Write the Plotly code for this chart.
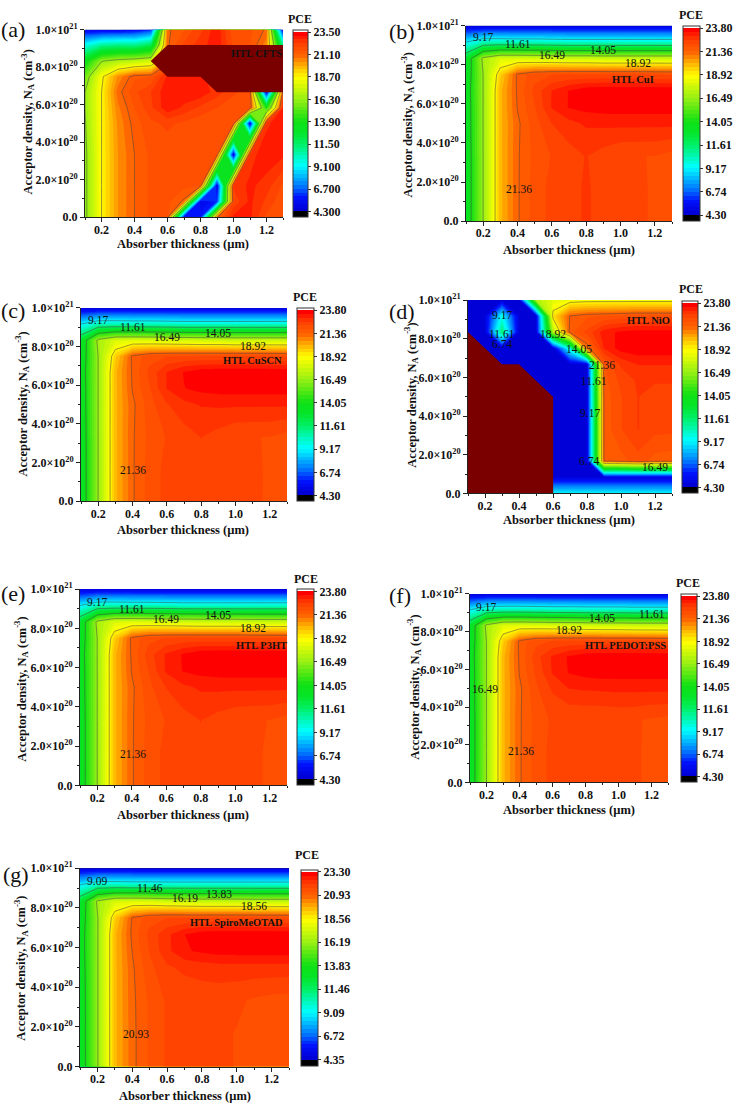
import plotly.graph_objects as go

W, H = 738, 1112
SERIF = "Liberation Serif"

# ---------- data ----------
thickness = [0.1, 0.2, 0.3, 0.4, 0.5, 0.6, 0.7, 0.8, 0.9, 1.0, 1.1, 1.2, 1.3]
density = [0, 1.67, 3.33, 5, 5.83, 6.67, 7.5, 8.33, 9.17, 10]          # x 1e20 cm-3
density_fine = [0, 0.83, 1.67, 3.33, 5, 5.83, 6.67, 7.5, 8.33, 9.17, 10]  # x 1e20 cm-3

pce_a = [
    [16.0, 18.7, 20.3, 21.1, 21.6, 21.6, 5.2, 5.8, 21.0, 22.8, 22.8, 21.8, 21.5],
    [16.0, 18.7, 20.3, 21.1, 21.6, 21.6, 21.0, 5.0, 6.0, 22.0, 22.8, 22.2, 21.6],
    [16.0, 18.7, 20.3, 21.1, 21.6, 21.6, 21.6, 21.6, 4.8, 22.4, 22.8, 22.5, 21.8],
    [16.0, 18.7, 20.3, 21.1, 21.6, 21.6, 21.6, 21.6, 21.6, 4.8, 22.5, 23.0, 22.8],
    [16.2, 18.7, 20.4, 21.3, 21.8, 22.0, 21.8, 21.6, 21.6, 21.6, 4.8, 22.6, 23.0],
    [16.3, 18.7, 20.6, 21.5, 22.2, 23.0, 22.6, 22.2, 21.9, 21.6, 21.7, 14.0, 22.8],
    [16.3, 18.7, 20.9, 21.8, 22.3, 23.0, 23.0, 23.0, 22.5, 22.0, 21.6, 4.8, 21.5],
    [15.5, 18.5, 20.4, 21.4, 21.5, 22.8, 23.0, 23.0, 22.0, 21.6, 21.6, 16.0, 21.5],
    [13.5, 16.2, 16.8, 17.1, 17.5, 20.5, 21.5, 22.0, 22.5, 21.6, 21.5, 20.0, 16.0],
    [9.5, 10.8, 11.1, 11.0, 12.0, 21.0, 22.0, 22.5, 23.0, 21.8, 21.5, 20.5, 11.0],
    [5.0, 5.0, 5.0, 5.3, 6.0, 21.0, 21.5, 22.2, 23.0, 21.6, 21.6, 21.0, 5.0],
]
pce_b = [
    [13.0, 16.5, 20.0, 21.3, 21.95, 22.3, 22.4, 22.65, 22.4, 22.35, 22.25, 22.12, 22.0],
    [13.0, 16.5, 20.0, 21.3, 21.95, 22.3, 22.4, 22.65, 22.4, 22.35, 22.28, 22.1, 22.05],
    [13.0, 16.5, 20.0, 21.3, 21.9, 22.2, 22.4, 22.6, 22.4, 22.2, 22.18, 22.17, 22.02],
    [13.1, 16.5, 20.0, 21.25, 22.0, 22.58, 22.85, 23.05, 23.08, 23.1, 23.1, 23.1, 23.1],
    [13.1, 16.5, 20.0, 21.4, 22.15, 23.02, 23.42, 23.55, 23.6, 23.6, 23.6, 23.6, 23.6],
    [13.2, 16.5, 20.0, 21.45, 22.3, 23.0, 23.42, 23.7, 23.75, 23.75, 23.75, 23.75, 23.75],
    [13.0, 16.5, 19.6, 21.5, 22.0, 22.15, 22.2, 22.2, 22.2, 22.2, 22.2, 22.15, 22.1],
    [12.8, 16.8, 18.0, 18.0, 17.9, 17.8, 17.7, 17.7, 17.6, 17.6, 17.6, 17.6, 17.6],
    [9.1, 10.3, 10.3, 10.2, 10.2, 10.1, 10.0, 10.0, 10.0, 10.0, 10.0, 10.0, 10.0],
    [4.7, 4.7, 4.7, 4.7, 4.7, 4.7, 4.7, 4.7, 4.7, 4.7, 4.7, 4.7, 4.7],
]
pce_c = [
    [13.0, 16.5, 20.0, 21.3, 21.95, 22.3, 22.4, 22.5, 22.45, 22.35, 22.25, 22.12, 22.0],
    [13.0, 16.5, 20.0, 21.3, 21.95, 22.3, 22.4, 22.5, 22.45, 22.35, 22.28, 22.1, 22.05],
    [13.0, 16.5, 20.0, 21.3, 21.9, 22.2, 22.4, 22.59, 22.42, 22.2, 22.18, 22.17, 22.02],
    [13.1, 16.5, 20.0, 21.25, 22.0, 22.55, 22.85, 23.02, 23.05, 23.05, 23.05, 23.05, 23.05],
    [13.1, 16.5, 20.0, 21.4, 22.15, 23.0, 23.38, 23.52, 23.58, 23.58, 23.58, 23.58, 23.58],
    [13.2, 16.5, 20.0, 21.45, 22.3, 23.0, 23.42, 23.68, 23.72, 23.72, 23.72, 23.72, 23.72],
    [13.0, 16.5, 19.6, 21.5, 22.0, 22.15, 22.2, 22.2, 22.2, 22.2, 22.2, 22.15, 22.1],
    [12.8, 16.8, 18.0, 18.1, 18.0, 17.9, 17.8, 17.7, 17.7, 17.6, 17.6, 17.6, 17.6],
    [9.1, 10.3, 10.3, 10.2, 10.2, 10.1, 10.0, 10.0, 10.0, 10.0, 10.0, 10.0, 10.0],
    [4.7, 4.7, 4.7, 4.7, 4.7, 4.7, 4.7, 4.7, 4.7, 4.7, 4.7, 4.7, 4.7],
]
pce_d = [
    [4.7, 4.7, 4.7, 4.7, 4.7, 9.2, 9.2, 9.2, 9.2, 9.2, 9.2, 9.2, 9.2],
    [4.7, 4.7, 4.7, 4.7, 4.7, 4.7, 4.7, 4.7, 4.7, 4.7, 4.7, 4.7, 4.7],
    [4.7, 4.7, 4.7, 4.7, 4.7, 4.7, 4.7, 4.7, 21.4, 21.6, 22.0, 21.6, 21.5],
    [4.7, 4.7, 4.7, 4.7, 4.7, 4.7, 4.7, 4.7, 21.5, 22.15, 22.6, 22.3, 22.3],
    [4.7, 4.7, 4.7, 4.7, 4.7, 4.7, 4.7, 4.7, 21.5, 22.15, 22.6, 22.3, 22.3],
    [4.7, 4.7, 4.7, 4.7, 4.7, 4.7, 4.7, 4.7, 21.6, 22.3, 22.65, 22.65, 22.65],
    [4.7, 4.7, 4.7, 4.7, 4.7, 4.7, 4.7, 4.7, 21.7, 22.65, 23.0, 23.0, 23.0],
    [4.7, 4.7, 4.7, 4.7, 4.7, 4.7, 10.0, 21.0, 23.0, 23.6, 23.7, 23.7, 23.7],
    [4.7, 4.7, 11.5, 4.7, 4.7, 17.0, 21.6, 22.3, 23.2, 23.5, 23.6, 23.6, 23.6],
    [4.7, 4.7, 9.5, 4.7, 4.7, 19.3, 21.4, 21.7, 21.8, 21.9, 22.0, 22.0, 22.0],
    [4.7, 4.7, 4.7, 4.7, 17.0, 18.2, 18.5, 18.6, 18.6, 18.6, 18.6, 18.6, 18.6],
]
pce_e = [
    [13.0, 16.5, 20.0, 21.3, 21.95, 22.3, 22.4, 22.5, 22.45, 22.35, 22.25, 22.12, 22.0],
    [13.0, 16.5, 20.0, 21.3, 21.95, 22.3, 22.4, 22.5, 22.45, 22.35, 22.28, 22.1, 22.05],
    [13.0, 16.5, 20.0, 21.3, 21.9, 22.2, 22.42, 22.59, 22.42, 22.25, 22.2, 22.17, 22.02],
    [13.1, 16.5, 20.0, 21.25, 22.05, 22.6, 22.9, 23.05, 23.08, 23.08, 23.08, 23.08, 23.08],
    [13.1, 16.5, 20.0, 21.4, 22.2, 23.05, 23.42, 23.55, 23.6, 23.6, 23.6, 23.6, 23.6],
    [13.2, 16.5, 20.0, 21.45, 22.4, 23.05, 23.45, 23.72, 23.75, 23.75, 23.75, 23.75, 23.75],
    [13.0, 16.5, 19.6, 21.5, 22.05, 22.2, 22.25, 22.25, 22.25, 22.25, 22.2, 22.2, 22.15],
    [12.8, 16.8, 18.0, 18.1, 18.0, 17.9, 17.8, 17.7, 17.7, 17.7, 17.6, 17.6, 17.6],
    [9.1, 10.3, 10.3, 10.2, 10.2, 10.1, 10.0, 10.0, 10.0, 10.0, 10.0, 10.0, 10.0],
    [4.7, 4.7, 4.7, 4.7, 4.7, 4.7, 4.7, 4.7, 4.7, 4.7, 4.7, 4.7, 4.7],
]
pce_f = [
    [13.0, 16.5, 20.0, 21.3, 21.95, 22.3, 22.35, 22.35, 22.35, 22.3, 22.22, 22.1, 22.0],
    [13.0, 16.5, 20.0, 21.3, 21.95, 22.3, 22.35, 22.35, 22.35, 22.3, 22.22, 22.1, 22.0],
    [13.0, 16.5, 20.0, 21.3, 21.9, 22.25, 22.2, 22.2, 22.2, 22.25, 22.22, 22.12, 22.05],
    [13.1, 16.5, 20.0, 21.25, 22.1, 22.65, 23.0, 23.05, 23.08, 23.1, 23.1, 23.1, 23.1],
    [13.1, 16.5, 20.0, 21.4, 22.25, 23.02, 23.42, 23.55, 23.6, 23.6, 23.6, 23.6, 23.6],
    [13.2, 16.5, 20.0, 21.45, 22.4, 23.05, 23.45, 23.7, 23.75, 23.75, 23.75, 23.75, 23.75],
    [13.0, 16.5, 19.6, 21.5, 22.05, 22.2, 22.25, 22.25, 22.25, 22.25, 22.25, 22.2, 22.15],
    [12.8, 16.8, 18.1, 18.2, 18.1, 18.0, 17.9, 17.8, 17.7, 17.7, 17.6, 17.6, 17.6],
    [9.1, 10.3, 10.4, 10.4, 10.3, 10.2, 10.2, 10.1, 10.1, 10.1, 10.0, 10.0, 10.0],
    [4.7, 4.7, 4.7, 4.7, 4.7, 4.7, 4.7, 4.7, 4.7, 4.7, 4.7, 4.7, 4.7],
]
pce_g = [
    [12.8, 16.1, 19.6, 20.8, 21.4, 21.78, 21.82, 21.82, 21.8, 21.7, 21.65, 21.6, 21.55],
    [12.8, 16.1, 19.6, 20.8, 21.4, 21.78, 21.82, 21.82, 21.8, 21.7, 21.65, 21.6, 21.55],
    [12.8, 16.1, 19.6, 20.82, 21.4, 21.78, 21.85, 21.85, 21.85, 21.8, 21.66, 21.58, 21.55],
    [12.9, 16.1, 19.6, 20.85, 21.6, 22.05, 22.2, 22.3, 22.35, 22.35, 22.35, 22.35, 22.35],
    [13.0, 16.1, 19.6, 20.95, 21.75, 22.4, 22.85, 22.98, 23.08, 23.1, 23.1, 23.1, 23.1],
    [13.0, 16.1, 19.6, 21.05, 21.85, 22.4, 22.9, 23.15, 23.2, 23.2, 23.2, 23.2, 23.2],
    [12.8, 16.1, 19.2, 21.0, 21.55, 21.7, 21.7, 21.7, 21.7, 21.7, 21.7, 21.65, 21.6],
    [12.5, 16.4, 17.6, 17.7, 17.6, 17.4, 17.3, 17.2, 17.2, 17.2, 17.1, 17.1, 17.1],
    [9.0, 10.1, 10.1, 10.0, 10.0, 9.9, 9.9, 9.9, 9.9, 9.9, 9.9, 9.9, 9.9],
    [4.75, 4.75, 4.75, 4.75, 4.75, 4.75, 4.75, 4.75, 4.75, 4.75, 4.75, 4.75, 4.75],
]

# Regions of no result (dark brown)
void_y_a = [5.83, 6.67, 7.5, 8.33, 9.17, 10]
void_a = [
    [0, 0, 0, 0, 0, 0, 0, 0, 0, 0, 0, 0, 0],
    [0, 0, 0, 0, 0, 0, 0, 0, 1, 1, 1, 1, 1],
    [0, 0, 0, 0, 0, 1, 1, 1, 1, 1, 1, 1, 1],
    [0, 0, 0, 0, 1, 1, 1, 1, 1, 1, 1, 1, 1],
    [0, 0, 0, 0, 0, 1, 1, 1, 1, 1, 1, 1, 1],
    [0, 0, 0, 0, 0, 0, 0, 0, 0, 0, 0, 0, 0],
]
void_y_d = [0, 5, 5.83, 6.67, 7.5, 8.33, 9.17]
void_d = [
    [1, 1, 1, 1, 1, 1, 0, 0, 0, 0, 0, 0, 0],
    [1, 1, 1, 1, 1, 1, 0, 0, 0, 0, 0, 0, 0],
    [1, 1, 1, 1, 1, 0, 0, 0, 0, 0, 0, 0, 0],
    [1, 1, 1, 1, 0, 0, 0, 0, 0, 0, 0, 0, 0],
    [1, 1, 0, 0, 0, 0, 0, 0, 0, 0, 0, 0, 0],
    [1, 0, 0, 0, 0, 0, 0, 0, 0, 0, 0, 0, 0],
    [0, 0, 0, 0, 0, 0, 0, 0, 0, 0, 0, 0, 0],
]

ticks_a = ["4.300", "6.700", "9.100", "11.50", "13.90", "16.30", "18.70", "21.10", "23.50"]
ticks_std = ["4.30", "6.74", "9.17", "11.61", "14.05", "16.49", "18.92", "21.36", "23.80"]
ticks_g = ["4.35", "6.72", "9.09", "11.46", "13.83", "16.19", "18.56", "20.93", "23.30"]

labels_a = []
labels_b = [("9.17", 0.2, 9.4), ("11.61", 0.4, 9.07), ("16.49", 0.6, 8.5), ("14.05", 0.9, 8.75),
            ("18.92", 1.1, 8.1), ("21.36", 0.41, 1.63)]
labels_c = [("9.17", 0.2, 9.35), ("11.61", 0.4, 9.0), ("16.49", 0.6, 8.5), ("14.05", 0.9, 8.7),
            ("18.92", 1.1, 8.04), ("21.36", 0.405, 1.6)]
labels_d = [("9.17", 0.3, 9.25), ("11.61", 0.3, 8.26), ("6.74", 0.3, 7.72), ("18.92", 0.6, 8.26),
            ("14.05", 0.75, 7.48), ("21.36", 0.89, 6.64), ("11.61", 0.84, 5.83), ("9.17", 0.82, 4.17),
            ("6.74", 0.81, 1.67), ("16.49", 1.2, 1.36)]
labels_e = [("9.17", 0.2, 9.33), ("11.61", 0.4, 9.0), ("16.49", 0.6, 8.45), ("14.05", 0.9, 8.67),
            ("18.92", 1.1, 8.0), ("21.36", 0.41, 1.6)]
labels_f = [("9.17", 0.195, 9.33), ("14.05", 0.9, 8.7), ("11.61", 1.2, 8.95), ("18.92", 0.7, 8.1),
            ("16.49", 0.19, 4.97), ("21.36", 0.41, 1.66)]
labels_g = [("9.09", 0.2, 9.37), ("11.46", 0.5, 9.02), ("16.19", 0.7, 8.49), ("13.83", 0.9, 8.72),
            ("18.56", 1.1, 8.09), ("20.93", 0.42, 1.63)]

x_ticks = [0.2, 0.4, 0.6, 0.8, 1.0, 1.2]
x_tick_text = ["0.2", "0.4", "0.6", "0.8", "1.0", "1.2"]
y_ticks = [0, 2, 4, 6, 8, 10]
y_tick_text = ["0.0", "2.0×10<sup>20</sup>", "4.0×10<sup>20</sup>", "6.0×10<sup>20</sup>",
               "8.0×10<sup>20</sup>", "1.0×10<sup>21</sup>"]

# colour ramp from the colour bars (fraction of the scale, colour)
ramp = [
    (0.00, (0, 0, 215)), (0.07, (0, 20, 255)), (0.125, (0, 110, 255)), (0.25, (0, 255, 255)),
    (0.375, (0, 240, 100)), (0.44, (5, 228, 40)), (0.50, (15, 225, 20)), (0.625, (150, 240, 20)),
    (0.75, (255, 255, 0)), (0.82, (255, 175, 0)), (0.875, (255, 100, 0)), (0.95, (255, 60, 0)),
    (1.00, (255, 0, 0)),
]

# ---------- layout of panels, in page pixels ----------
panels = [
    dict(tag="a", z=pce_a, y=density_fine, lo=4.3, hi=23.5, ticks=ticks_a, labels=labels_a, first_line=5,
         plot=(85, 283, 22, 212), bar=(293, 308, 22, 212), htl=("HTL CFTS", 1.14, 8.74),
         void=(void_y_a, void_a), letter=(13, 22), pce=(300, 11), xt=(183, 239), yt=(28, 116)),
    dict(tag="b", z=pce_b, y=density, lo=4.3, hi=23.8, ticks=ticks_std, labels=labels_b, first_line=2,
         plot=(466, 672, 18, 216), bar=(683, 700, 18, 216), htl=("HTL CuI", 1.07, 7.25),
         void=None, letter=(402, 24), pce=(691, 7), xt=(569, 245), yt=(408, 119)),
    dict(tag="c", z=pce_c, y=density, lo=4.3, hi=23.8, ticks=ticks_std, labels=labels_c, first_line=2,
         plot=(81, 287, 304, 500), bar=(297, 314, 304, 500), htl=("HTL CuSCN", 1.1, 7.3),
         void=None, letter=(13, 307), pce=(305, 293), xt=(183, 529), yt=(22, 402)),
    dict(tag="d", z=pce_d, y=density_fine, lo=4.3, hi=23.8, ticks=ticks_std, labels=labels_d, first_line=6,
         plot=(468, 672, 296, 492), bar=(682, 698, 297, 492), htl=("HTL NiO", 1.16, 8.93),
         void=(void_y_d, void_d), letter=(402, 308), pce=(691, 285), xt=(569, 519), yt=(411, 393)),
    dict(tag="e", z=pce_e, y=density, lo=4.3, hi=23.8, ticks=ticks_std, labels=labels_e, first_line=2,
         plot=(80, 287, 589, 788), bar=(297, 314, 589, 788), htl=("HTL P3HT", 1.15, 7.15),
         void=None, letter=(13, 594), pce=(306, 579), xt=(183, 818), yt=(21, 691)),
    dict(tag="f", z=pce_f, y=density, lo=4.3, hi=23.8, ticks=ticks_std, labels=labels_f, first_line=2,
         plot=(470, 668, 594, 785), bar=(681, 697, 594, 785), htl=("HTL PEDOT:PSS", 1.04, 7.28),
         void=None, letter=(400, 596), pce=(688, 583), xt=(569, 813), yt=(414, 689)),
    dict(tag="g", z=pce_g, y=density, lo=4.35, hi=23.3, ticks=ticks_g, labels=labels_g, first_line=2,
         plot=(80, 289, 872, 1073), bar=(301, 318, 873, 1072), htl=("HTL SpiroMeOTAD", 1.0, 7.26),
         void=None, letter=(16, 878), pce=(307, 859), xt=(185, 1103), yt=(21, 974)),
]

PER_MAJOR = 6
N_BANDS = 8 * PER_MAJOR


def px(x):
    return x / W


def py(y):
    return 1 - y / H


def ramp_colour(f):
    for (f0, c0), (f1, c1) in zip(ramp, ramp[1:]):
        if f <= f1:
            t = (f - f0) / (f1 - f0)
            rgb = [round(a + (b - a) * t) for a, b in zip(c0, c1)]
            return f"rgb({rgb[0]},{rgb[1]},{rgb[2]})"
    return "rgb(255,0,0)"


def build_scale():
    # levels: lo-s (black band), lo ... hi (ramp), above hi (white band)
    n = N_BANDS + 2
    scale = [[0, "rgb(0,0,0)"], [1 / n, "rgb(0,0,0)"]]
    for i in range(N_BANDS):
        scale.append([(i + 2) / n, ramp_colour(i / (N_BANDS - 1))])
    scale.append([1, "rgb(255,255,255)"])
    return scale


scale = build_scale()
fig = go.Figure()
ann = []
layout_axes = {}


def text(t, x, y, size, bold=True, angle=0, xref="paper", yref="paper"):
    ann.append(dict(text=f"<b>{t}</b>" if bold else t, x=x, y=y, xref=xref, yref=yref,
                    showarrow=False, textangle=angle, xanchor="center", yanchor="middle",
                    font=dict(family=SERIF, size=size, color="#111")))


for i, p in enumerate(panels, 1):
    xa, ya = f"x{i}", f"y{i}"
    xn, yn = f"xaxis{i}", f"yaxis{i}"
    L, R, T, B = p["plot"]
    s = (p["hi"] - p["lo"]) / N_BANDS
    fig.add_trace(go.Contour(
        x=thickness, y=p["y"], z=p["z"], xaxis=xa, yaxis=ya, zauto=False,
        colorscale=scale, autocontour=False, hoverinfo="skip",
        contours=dict(coloring="fill", start=p["lo"] - s, end=p["hi"], size=s, showlines=False),
        line=dict(width=0, smoothing=0),
        colorbar=dict(
            x=px(p["bar"][0]), xanchor="left", xpad=0, ypad=0, thickness=p["bar"][1] - p["bar"][0],
            thicknessmode="pixels", y=py(p["bar"][3]), yanchor="bottom",
            len=(p["bar"][3] - p["bar"][2]) / H, lenmode="fraction",
            outlinewidth=1, outlinecolor="#333", borderwidth=0,
            tickmode="array",
            tickvals=[p["lo"] + k * (p["hi"] - p["lo"]) / 8 for k in range(9)],
            ticktext=[f"<b>{t}</b>" for t in p["ticks"]],
            ticks="outside", ticklen=3, tickcolor="#333",
            tickfont=dict(family=SERIF, size=12, color="#111"),
        ),
    ))
    major = (p["hi"] - p["lo"]) / 8
    fig.add_trace(go.Contour(
        x=thickness, y=p["y"], z=p["z"], xaxis=xa, yaxis=ya, showscale=False, hoverinfo="skip",
        autocontour=False,
        contours=dict(coloring="none", start=p["lo"] + p["first_line"] * major, end=p["hi"] - major, size=major),
        line=dict(color="rgba(70,70,70,0.65)", width=0.8, smoothing=0),
    ))
    if p["void"]:
        fig.add_trace(go.Contour(
            x=thickness, y=p["void"][0], z=p["void"][1], xaxis=xa, yaxis=ya, showscale=False,
            hoverinfo="skip", fillcolor="#7a0000", line=dict(width=0, smoothing=0),
            contours=dict(type="constraint", operation="<=", value=0.99),
        ))
    layout_axes[xn] = dict(
        domain=[px(L), px(R)], range=[0.1, 1.3], anchor=ya, tickmode="array", tickvals=x_ticks,
        ticktext=[f"<b>{t}</b>" for t in x_tick_text], ticks="outside", ticklen=4, tickcolor="#222",
        showline=True, linecolor="#222", linewidth=1, showgrid=False, zeroline=False,
        tickfont=dict(family=SERIF, size=12, color="#111"), ticklabelstandoff=-3,
        minor=dict(tickmode="linear", tick0=0.1, dtick=0.2, ticks="outside", ticklen=2, tickcolor="#222"),
    )
    layout_axes[yn] = dict(
        domain=[py(B), py(T)], range=[0, 10], anchor=xa, tickmode="array", tickvals=y_ticks,
        ticktext=[f"<b>{t}</b>" for t in y_tick_text], ticks="outside", ticklen=4, tickcolor="#222",
        showline=True, linecolor="#222", linewidth=1, showgrid=False, zeroline=False,
        tickfont=dict(family=SERIF, size=12, color="#111"),
        minor=dict(tickmode="linear", tick0=1, dtick=2, ticks="outside", ticklen=2, tickcolor="#222"),
    )
    for t, x, y in p["labels"]:
        text(t, x, y, 11.5, bold=False, xref=xa, yref=ya)
    text(p["htl"][0], p["htl"][1], p["htl"][2], 10.5, xref=xa, yref=ya)
    text(f"({p['tag']})", px(p["letter"][0]), py(p["letter"][1]), 22, bold=False)
    text("PCE", px(p["pce"][0]), py(p["pce"][1]), 12)
    text("Absorber thickness (µm)", px(p["xt"][0]), py(p["xt"][1]), 12.5)
    text("Acceptor density, N<sub>A</sub> (cm<sup>-3</sup>)", px(p["yt"][0]), py(p["yt"][1]), 12.5, angle=-90)

fig.update_layout(
    width=W, height=H, autosize=False, margin=dict(l=0, r=0, t=0, b=0),
    paper_bgcolor="white", plot_bgcolor="white", showlegend=False,
    annotations=ann, **layout_axes,
)
fig.write_html("out.html", config=dict(displayModeBar=False), post_script="document.body.style.margin='0';")
